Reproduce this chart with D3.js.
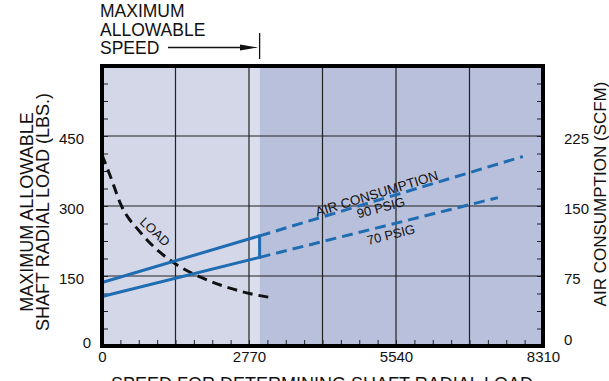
<!DOCTYPE html>
<html><head><meta charset="utf-8">
<script src="https://cdn.jsdelivr.net/npm/d3@7"></script>
<style>
body{margin:0;background:#fff;}
svg{display:block;font-family:"Liberation Sans",Arial,sans-serif;}
.domain{display:none;}
</style></head>
<body><svg id="c" width="609" height="381"></svg>
<script>
// ---- data ----
const speedTicks = [0, 2770, 5540, 8310];
const loadTicks = [0, 150, 300, 450];
const airTicks = [0, 75, 150, 225];
const maxSpeed = 2970;
// LOAD curve (speed, lbs)
const loadSpeed = [0, 150, 360, 720, 1090, 1410, 1850, 2410, 2800, 3170];
const loadValue = [410, 366, 302, 244, 201, 174, 148, 124, 112, 104];
// Air consumption 90 PSIG (speed, SCFM)
const air90Speed = [0, 2970, 7930];
const air90Value = [68, 118, 203];
// Air consumption 70 PSIG
const air70Speed = [0, 2970, 7460];
const air70Value = [53, 95, 159];

const svg = d3.select("#c");
const L = 102, R = 543, T = 66, B = 346;
const x = d3.scaleLinear().domain([0, 8310]).range([L, R]);
const yL = d3.scaleLinear().domain([0, 600]).range([B, T]);
const yR = d3.scaleLinear().domain([0, 300]).range([B, T]);
const fmt = d3.format("d");

// backgrounds
svg.append("rect").attr("x", x(0)).attr("y", T).attr("width", x(2770) - x(0)).attr("height", B - T).attr("fill", "#d3d7e8");
svg.append("rect").attr("x", x(2770)).attr("y", T).attr("width", x(maxSpeed) - x(2770)).attr("height", B - T).attr("fill", "#dbdeed");
svg.append("rect").attr("x", x(maxSpeed)).attr("y", T).attr("width", x(8310) - x(maxSpeed)).attr("height", B - T).attr("fill", "#b9c0dc");

// grid
const gx = d3.range(1385, 8310, 1385);
svg.selectAll(".gv").data(gx).join("line").attr("x1", d => x(d)).attr("x2", d => x(d))
  .attr("y1", T).attr("y2", B).attr("stroke", "#222").attr("stroke-width", 1.2);
svg.selectAll(".gh").data([150, 300, 450]).join("line").attr("y1", d => yL(d)).attr("y2", d => yL(d))
  .attr("x1", L).attr("x2", R).attr("stroke", "#222").attr("stroke-width", 1.2);

// minor ticks (inward)
svg.append("g").attr("transform", `translate(${L},0)`)
  .call(d3.axisRight(yL).tickValues(d3.range(37.5, 600, 37.5)).tickSize(6).tickFormat(""))
  .selectAll("line").attr("stroke", "#222");
svg.append("g").attr("transform", `translate(${R},0)`)
  .call(d3.axisLeft(yR).tickValues(d3.range(18.75, 300, 18.75)).tickSize(6).tickFormat(""))
  .selectAll("line").attr("stroke", "#222");
svg.append("g").attr("transform", `translate(0,${B})`)
  .call(d3.axisTop(x).tickValues(d3.range(346.25, 8310, 346.25)).tickSize(6).tickFormat(""))
  .selectAll("line").attr("stroke", "#222");

// tick labels
const ax1 = svg.append("g").attr("transform", `translate(${L - 18},0)`)
  .call(d3.axisLeft(yL).tickValues(loadTicks).tickFormat(fmt).tickSize(0).tickPadding(0));
ax1.selectAll("text").attr("font-size", 15).attr("fill", "#111").attr("font-family", "Liberation Sans, Arial")
  .attr("dy", "0.32em").attr("x", d => d === 0 ? 7 : 0).attr("y", d => d === 0 ? -3 : 3);
const ax2 = svg.append("g").attr("transform", `translate(${R + 21},0)`)
  .call(d3.axisRight(yR).tickValues(airTicks).tickFormat(fmt).tickSize(0).tickPadding(0));
ax2.selectAll("text").attr("font-size", 15).attr("fill", "#111").attr("font-family", "Liberation Sans, Arial")
  .attr("dy", "0.32em").attr("y", d => d === 0 ? -6 : 3);
const ax3 = svg.append("g").attr("transform", `translate(0,${B + 5})`)
  .call(d3.axisBottom(x).tickValues(speedTicks).tickFormat(fmt).tickSize(0).tickPadding(0));
ax3.selectAll("text").attr("font-size", 15).attr("fill", "#111").attr("font-family", "Liberation Sans, Arial");

// curves
const line = d3.line().x(d => x(d[0])).y(d => d[1]);
const loadPts = loadSpeed.map((s, i) => [s, yL(loadValue[i])]);
svg.append("path").attr("d", d3.line().curve(d3.curveMonotoneX).x(d => x(d[0])).y(d => d[1])(loadPts))
  .attr("fill", "none").attr("stroke", "#111").attr("stroke-width", 3).attr("stroke-dasharray", "10,6");

const blue = "#1f6db0";
function airLine(sp, val) {
  const p = sp.map((s, i) => [s, yR(val[i])]);
  svg.append("path").attr("d", line(p.slice(0, 2))).attr("fill", "none").attr("stroke", blue).attr("stroke-width", 3);
  svg.append("path").attr("d", line(p.slice(1))).attr("fill", "none").attr("stroke", blue)
    .attr("stroke-width", 3).attr("stroke-dasharray", "11,6");
}
airLine(air90Speed, air90Value);
airLine(air70Speed, air70Value);
svg.append("line").attr("x1", x(maxSpeed)).attr("x2", x(maxSpeed))
  .attr("y1", yR(air90Value[1]) - 1.5).attr("y2", yR(air70Value[1]) + 1.5).attr("stroke", blue).attr("stroke-width", 3);

// frame
svg.append("rect").attr("x", L).attr("y", T).attr("width", R - L).attr("height", B - T)
  .attr("fill", "none").attr("stroke", "#000").attr("stroke-width", 4);

// annotations in plot
const ann = (t, cx, cy, rot, fs) => svg.append("text").attr("transform", `translate(${cx},${cy}) rotate(${rot})`)
  .attr("text-anchor", "middle").attr("font-size", fs).attr("fill", "#111").text(t);
ann("LOAD", 152, 235, 43, 13);
ann("AIR CONSUMPTION", 378, 198, -17, 13.5);
ann("90 PSIG", 382, 212, -15, 13);
ann("70 PSIG", 392, 239, -14, 13);

// top annotation
const tt = svg.append("g").attr("font-size", 17.5).attr("fill", "#111");
tt.append("text").attr("x", 100).attr("y", 17).text("MAXIMUM");
tt.append("text").attr("x", 100).attr("y", 35.5).text("ALLOWABLE");
tt.append("text").attr("x", 100).attr("y", 54).text("SPEED");
svg.append("line").attr("x1", 168).attr("x2", 244).attr("y1", 47.5).attr("y2", 47.5).attr("stroke", "#111").attr("stroke-width", 1.3);
svg.append("path").attr("d", "M240,44.5 L258,47.5 L240,50.5 Z").attr("fill", "#111");
svg.append("line").attr("x1", x(maxSpeed)).attr("x2", x(maxSpeed)).attr("y1", 33).attr("y2", 59).attr("stroke", "#111").attr("stroke-width", 1.3);

// axis titles
const yt = svg.append("g").attr("font-size", 18).attr("fill", "#111").attr("text-anchor", "middle");
yt.append("text").attr("transform", "translate(33,212) rotate(-90)").text("MAXIMUM ALLOWABLE");
yt.append("text").attr("transform", "translate(48.5,212) rotate(-90)").text("SHAFT RADIAL LOAD (LBS.)");
svg.append("text").attr("transform", "translate(606,194) rotate(-90)").attr("text-anchor", "middle")
  .attr("font-size", 17).attr("fill", "#111").text("AIR CONSUMPTION (SCFM)");
svg.append("text").attr("x", 322).attr("y", 390).attr("text-anchor", "middle").attr("font-size", 18)
  .attr("fill", "#111").text("SPEED FOR DETERMINING SHAFT RADIAL LOAD");
</script></body></html>
